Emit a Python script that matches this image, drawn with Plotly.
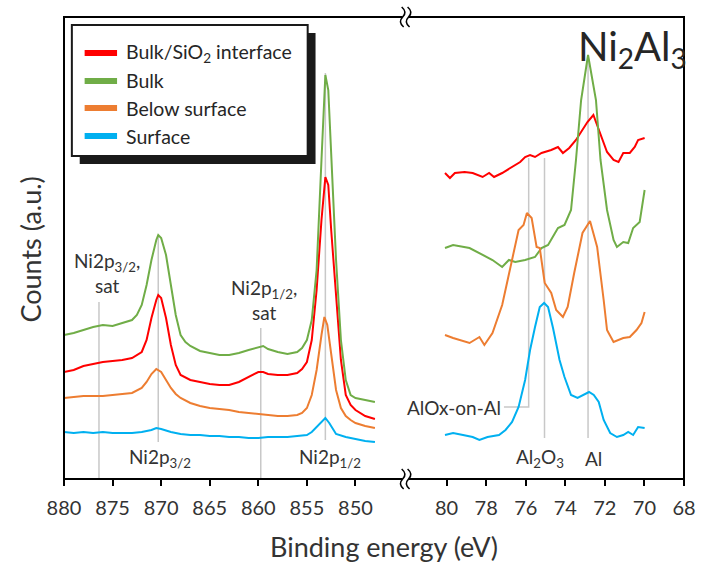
import plotly.graph_objects as go

# ---------------- Ni 2p region (binding energy, eV / counts, a.u.) ----------------
ni_iface_be = [880, 879, 878, 877, 876, 875, 874, 873, 872, 871.5, 871, 870.5, 870.3, 870, 869.5, 869,
               868.5, 868, 867, 866, 865, 864, 863, 862, 861, 860, 859.5, 859, 858, 857, 856, 855.5,
               855, 854.5, 854, 853.5, 853.1, 852.8, 852.5, 852, 851.5, 851, 850.5, 850, 849, 848]
ni_iface_counts = [107, 109, 113, 115, 117, 118, 119, 121, 127, 139, 161, 179, 184, 181, 161, 134,
                   114, 104, 99, 97, 95, 94, 94, 97, 102, 107, 107, 105, 104, 104, 106, 110,
                   117, 139, 189, 259, 302, 294, 249, 179, 119, 84, 74, 69, 63, 60]

ni_bulk_be = [880, 879, 878, 877, 876, 875, 874, 873, 872.5, 872, 871.5, 871, 870.5, 870.3, 870, 869.5,
              869, 868.5, 868, 867.5, 867, 866, 865, 864, 863, 862, 861, 860, 859.5, 859, 858, 857,
              856, 855.5, 855, 854.5, 854, 853.5, 853.1, 852.8, 852.5, 852, 851.5, 851, 850.5, 850,
              849, 848]
ni_bulk_counts = [144, 146, 149, 152, 154, 153, 156, 159, 164, 174, 194, 219, 239, 244, 241, 224,
                  194, 164, 144, 137, 133, 128, 126, 124, 124, 126, 129, 132, 133, 130, 127, 125,
                  127, 131, 139, 159, 209, 319, 404, 389, 329, 219, 139, 99, 84, 81,
                  79, 77]

ni_below_be = [880, 879, 878, 877, 876, 875, 874, 873, 872, 871.5, 871, 870.5, 870, 869.5, 869, 868.5,
               868, 867, 866, 865, 864, 863, 862, 861, 860, 859, 858, 857, 856, 855.5, 855, 854.5,
               854, 853.5, 853.2, 852.9, 852.5, 852, 851.5, 851, 850.5, 850, 849, 848]
ni_below_counts = [81, 82, 83, 83, 83, 84, 85, 86, 91, 97, 105, 110, 107, 99, 91, 85,
                   81, 76, 73, 71, 70, 69, 67, 66, 65, 64, 63, 63, 64, 66, 71, 84,
                   109, 144, 162, 154, 124, 89, 71, 63, 59, 56, 53, 51]

ni_surf_be = [880, 879, 878, 877, 876, 875, 874, 873, 872, 871, 870.5, 870, 869, 868, 867, 866, 865,
              864, 863, 862, 861, 860, 859, 858, 857, 856, 855, 854.5, 854, 853.5, 853.1, 852.7,
              852.3, 852, 851, 850, 849, 848]
ni_surf_counts = [47, 46, 47, 46, 47, 46, 46, 46, 47, 49, 51, 50, 47, 45, 44, 44, 43,
                  43, 42, 42, 41, 41, 42, 42, 42, 43, 44, 47, 52, 58, 61, 56,
                  49, 45, 42, 40, 38, 37]

# ---------------- Al 2p region ----------------
al_iface_be = [80.08, 79.83, 79.58, 79.09, 78.68, 78.18, 77.85, 77.6, 77.19, 76.69, 76.28, 76.03,
               75.78, 75.53, 75.2, 74.71, 74.37, 74.12, 73.8, 73.46, 73.13, 72.88, 72.58, 72.39,
               72.14, 71.89, 71.56, 71.31, 71.07, 70.74, 70.49, 70.32, 69.99]
al_iface_counts = [306, 301, 306, 307, 306, 302, 306, 302, 306, 312, 317, 322,
                   324, 322, 326, 329, 332, 326, 331, 339, 349, 357, 364, 354,
                   339, 327, 319, 317, 326, 326, 332, 339, 341]

al_bulk_be = [80.08, 79.67, 78.84, 78.18, 77.68, 77.19, 76.85, 76.53, 76.03, 75.53, 75.2, 74.87,
              74.37, 74.04, 73.71, 73.46, 73.2, 72.85, 72.45, 72.22, 71.89, 71.56, 71.39, 71.07,
              70.82, 70.57, 70.24, 69.99]
al_bulk_counts = [231, 234, 231, 224, 219, 212, 219, 217, 219, 222, 231, 234,
                  251, 254, 269, 319, 379, 424, 379, 319, 269, 239, 232, 237,
                  236, 251, 257, 289]

al_below_be = [80.08, 79.67, 78.84, 78.34, 78.09, 77.68, 77.19, 76.85, 76.36, 76.11, 75.94, 75.7,
               75.45, 75.29, 75.04, 74.71, 74.46, 74.12, 73.88, 73.55, 73.13, 72.75, 72.39, 72.06,
               71.89, 71.81, 71.56, 71.07, 70.74, 70.4, 70.15, 69.99]
al_below_counts = [144, 141, 136, 142, 134, 146, 174, 206, 249, 254, 266, 261,
                   232, 231, 196, 186, 169, 162, 172, 206, 246, 258, 232, 179,
                   149, 146, 137, 141, 142, 149, 156, 167]

al_surf_be = [80.08, 79.67, 79.17, 78.68, 78.34, 77.93, 77.35, 77.02, 76.69, 76.36, 76.03, 75.78,
              75.53, 75.29, 75.07, 74.87, 74.62, 74.29, 74.04, 73.71, 73.38, 73.05, 72.8, 72.56,
              72.31, 72.06, 71.73, 71.39, 71.07, 70.82, 70.57, 70.32, 69.99]
al_surf_counts = [44, 46, 44, 42, 39, 42, 44, 49, 57, 72, 99, 129,
                  152, 172, 176, 172, 151, 119, 102, 84, 81, 84, 87, 84,
                  77, 59, 46, 42, 44, 47, 44, 52, 51]

series_names = ["Bulk/SiO<sub>2</sub> interface", "Bulk", "Below surface", "Surface"]
series_colors = ["#FF0000", "#70AD47", "#ED7D31", "#00B0F0"]

# peak reference markers: (energy, low, high)
ni_refs = [(876.4, 0, 177), (870.3, 37, 244), (859.75, 0, 151), (853.1, 39, 406)]
al_refs = [(75.05, 41, 321), (72.85, 41, 424)]
aloxal_ref = ([77.1, 75.85, 75.85], [72, 72, 321])

ni_ticks = [880, 875, 870, 865, 860, 855, 850]
al_ticks = [80, 78, 76, 74, 72, 70, 68]

# ---------------- figure geometry ----------------
W, H = 708, 566
ML, MR, MT, MB = 64, 13, 17, 87
PW, PH = W - ML - MR, H - MT - MB
BREAK = 0.551


def px(x):
    return (x - ML) / PW


def py(y):
    return (H - MB - y) / PH


FONT = "Lato"
TXT = "#333333"
REF = "#C8C8C8"

fig = go.Figure()

for e, lo, hi in ni_refs:
    fig.add_trace(go.Scatter(x=[e, e], y=[lo, hi], mode="lines", xaxis="x", yaxis="y",
                             line=dict(color=REF, width=1.5), showlegend=False, hoverinfo="skip"))
for e, lo, hi in al_refs:
    fig.add_trace(go.Scatter(x=[e, e], y=[lo, hi], mode="lines", xaxis="x2", yaxis="y",
                             line=dict(color=REF, width=1.5), showlegend=False, hoverinfo="skip"))
fig.add_trace(go.Scatter(x=aloxal_ref[0], y=aloxal_ref[1], mode="lines", xaxis="x2", yaxis="y",
                         line=dict(color=REF, width=1.5), showlegend=False, hoverinfo="skip"))

ni_sets = [(ni_iface_be, ni_iface_counts), (ni_bulk_be, ni_bulk_counts),
           (ni_below_be, ni_below_counts), (ni_surf_be, ni_surf_counts)]
al_sets = [(al_iface_be, al_iface_counts), (al_bulk_be, al_bulk_counts),
           (al_below_be, al_below_counts), (al_surf_be, al_surf_counts)]

for (xs, ys), name, col in zip(ni_sets, series_names, series_colors):
    fig.add_trace(go.Scatter(x=xs, y=ys, mode="lines", name=name, xaxis="x", yaxis="y",
                             line=dict(color=col, width=2), showlegend=False))
for (xs, ys), name, col in zip(al_sets, series_names, series_colors):
    fig.add_trace(go.Scatter(x=xs, y=ys, mode="lines", name=name, xaxis="x2", yaxis="y",
                             line=dict(color=col, width=2), showlegend=False))

axis_common = dict(showgrid=False, zeroline=False, showline=False, ticks="outside", ticklen=6,
                   tickwidth=1.5, tickcolor="black", ticklabelstandoff=5,
                   tickfont=dict(family=FONT, size=20, color=TXT))

fig.update_layout(
    width=W, height=H,
    margin=dict(l=ML, r=MR, t=MT, b=MB),
    paper_bgcolor="white", plot_bgcolor="white",
    xaxis=dict(domain=[0, BREAK], range=[880, 844.84], tickvals=ni_ticks, anchor="y", **axis_common),
    xaxis2=dict(domain=[BREAK, 1], range=[82.07, 68], tickvals=al_ticks, anchor="y", **axis_common),
    yaxis=dict(range=[0, 462], showticklabels=False, showgrid=False, zeroline=False,
               showline=False, ticks=""),
)

shapes = []
# plot frame
shapes.append(dict(type="rect", xref="paper", yref="paper", x0=0, x1=1, y0=0, y1=1,
                   line=dict(color="black", width=2), layer="above"))

# axis break marks on top and bottom edges
bx = ML + BREAK * PW
for cy in (MT, H - MB):
    shapes.append(dict(type="rect", xref="paper", yref="paper",
                       x0=px(bx - 3), x1=px(bx + 3), y0=py(cy + 3), y1=py(cy - 3),
                       fillcolor="white", line=dict(width=0), layer="above"))
    for dx in (-3, 3):
        x0 = bx + dx
        path = (f"M {px(x0 - 1)} {py(cy - 10)} "
                f"Q {px(x0 + 5)} {py(cy - 5)} {px(x0)} {py(cy)} "
                f"Q {px(x0 - 5)} {py(cy + 5)} {px(x0 + 1)} {py(cy + 10)}")
        shapes.append(dict(type="path", xref="paper", yref="paper", path=path,
                           line=dict(color="black", width=1.6), layer="above"))

# legend box with drop shadow
LX0, LY0, LX1, LY1 = 72, 25, 312, 156
shapes.append(dict(type="rect", xref="paper", yref="paper",
                   x0=px(LX0 + 8), x1=px(LX1 + 8), y0=py(LY1 + 8), y1=py(LY0 + 8),
                   fillcolor="#1a1a1a", line=dict(width=0), layer="above"))
shapes.append(dict(type="rect", xref="paper", yref="paper",
                   x0=px(LX0), x1=px(LX1), y0=py(LY1), y1=py(LY0),
                   fillcolor="white", line=dict(color="#1a1a1a", width=2), layer="above"))

annotations = []
legend_rows = [53, 81, 108, 136]
for yy, name, col in zip(legend_rows, series_names, series_colors):
    shapes.append(dict(type="line", xref="paper", yref="paper",
                       x0=px(85), x1=px(118), y0=py(yy), y1=py(yy),
                       line=dict(color=col, width=6), layer="above"))
    annotations.append(dict(xref="paper", yref="paper", x=px(125), y=py(yy), text=name,
                            showarrow=False, xanchor="left", yanchor="middle",
                            font=dict(family=FONT, size=19.5, color="#262626")))

lab_font = dict(family=FONT, size=19, color=TXT)
annotations += [
    dict(xref="x", yref="y", x=875.6, y=206, text="Ni2p<sub>3/2</sub>,<br>sat", showarrow=False,
         font=lab_font, align="center"),
    dict(xref="x", yref="y", x=859.4, y=179, text="Ni2p<sub>1/2</sub>,<br>sat", showarrow=False,
         font=lab_font, align="center"),
    dict(xref="x", yref="y", x=870.1, y=21, text="Ni2p<sub>3/2</sub>", showarrow=False, font=lab_font),
    dict(xref="x", yref="y", x=852.6, y=21, text="Ni2p<sub>1/2</sub>", showarrow=False, font=lab_font),
    dict(xref="x2", yref="y", x=77.15, y=72, text="AlOx-on-Al", showarrow=False, font=lab_font,
         xanchor="right"),
    dict(xref="x2", yref="y", x=75.3, y=21, text="Al<sub>2</sub>O<sub>3</sub>", showarrow=False,
         font=lab_font),
    dict(xref="x2", yref="y", x=72.57, y=21, text="Al", showarrow=False, font=lab_font),
    dict(xref="paper", yref="paper", x=px(700), y=py(20), text="Ni<sub>2</sub>Al<sub>3</sub>",
         showarrow=False, xanchor="right", yanchor="top",
         font=dict(family=FONT, size=40, color="#262626")),
    dict(xref="paper", yref="paper", x=px(390), y=py(546), text="Binding energy (eV)",
         showarrow=False, xanchor="center", yanchor="middle",
         font=dict(family=FONT, size=27, color=TXT)),
    dict(xref="paper", yref="paper", x=px(30), y=py(250), text="Counts (a.u.)", textangle=-90,
         showarrow=False, xanchor="center", yanchor="middle",
         font=dict(family=FONT, size=27, color=TXT)),
]

fig.update_layout(shapes=shapes, annotations=annotations)
fig.write_html("out.html")
